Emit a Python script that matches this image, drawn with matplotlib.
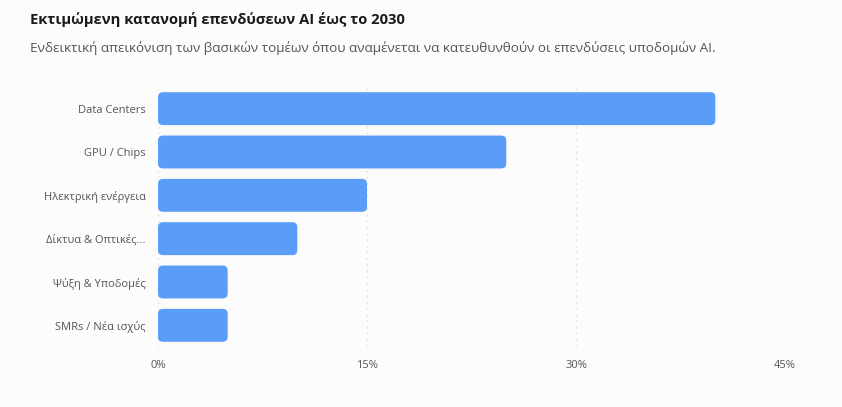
import matplotlib.pyplot as plt
from matplotlib.patches import FancyBboxPatch

# data
categories = ['Data Centers', 'GPU / Chips', 'Ηλεκτρική ενέργεια',
              'Δίκτυα & Οπτικές...', 'Ψύξη & Υποδομές', 'SMRs / Νέα ισχύς']
shares = [40, 25, 15, 10, 5, 5]
xticks = [0, 15, 30, 45]
xticklabels = ['0%', '15%', '30%', '45%']

title = 'Εκτιμώμενη κατανομή επενδύσεων AI έως το 2030'
subtitle = ('Ενδεικτική απεικόνιση των βασικών τομέων όπου αναμένεται να '
            'κατευθυνθούν οι επενδύσεις υποδομών AI.')

plt.rcParams['font.family'] = ['Open Sans', 'DejaVu Sans']

bg = '#fcfcfc'
bar_color = '#5a9df8'

fig = plt.figure(figsize=(8.42, 4.07), dpi=100, facecolor=bg)
ax = fig.add_axes([158 / 842, 1 - 347 / 407, 627 / 842, 260 / 407])
ax.set_facecolor(bg)

y = list(range(len(categories)))
bars = ax.barh(y, shares, height=0.76, color=bar_color)
ax.set_xlim(0, 45)
ax.set_ylim(len(categories) - 0.5, -0.5)

# swap the square bars for rounded ones
x_per_px = 45 / 627
y_per_px = len(categories) / 260
for b in bars:
    bx, by = b.get_x(), b.get_y()
    w, h = b.get_width(), b.get_height()
    b.set_visible(False)
    p = FancyBboxPatch((bx, by), w, h,
                       boxstyle='round,pad=0,rounding_size=%f' % (5 * x_per_px),
                       mutation_aspect=y_per_px / x_per_px,
                       facecolor=bar_color, edgecolor='none')
    ax.add_patch(p)

ax.set_yticks(y)
ax.set_yticklabels(categories)
ax.set_xticks(xticks)
ax.set_xticklabels(xticklabels)
ax.tick_params(axis='both', length=0, colors='#555555', labelsize=8)
ax.tick_params(axis='y', pad=9)
ax.tick_params(axis='x', pad=9)
ax.grid(axis='x', linestyle=(0, (1.5, 3)), color='#e3e3e3', linewidth=1)
ax.set_axisbelow(True)
for s in ax.spines.values():
    s.set_visible(False)

fig.text(30 / 842, 1 - 24 / 407, title, fontsize=10.6, fontweight='bold',
         color='#1a1a1a', va='baseline')
fig.text(30 / 842, 1 - 52 / 407, subtitle, fontsize=9.7, color='#555555',
         va='baseline')

fig.savefig('out.png', dpi=100, facecolor=bg)
